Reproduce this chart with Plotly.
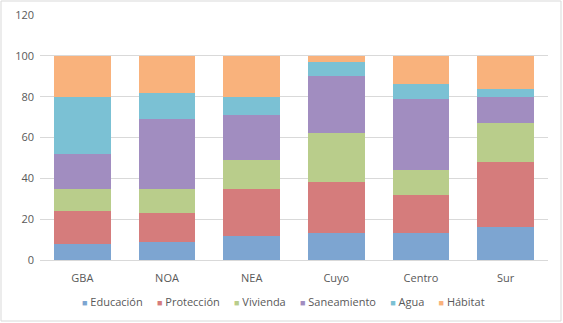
import plotly.graph_objects as go

regions = ["GBA", "NOA", "NEA", "Cuyo", "Centro", "Sur"]
educacion = [8, 9, 12, 13, 13, 16]
proteccion = [16, 14, 23, 25, 19, 32]
vivienda = [11, 12, 14, 24, 12, 19]
saneamiento = [17, 34, 22, 28, 35, 13]
agua = [28, 13, 9, 7, 7, 4]
habitat = [20, 18, 20, 3, 14, 16]

series = [
    ("Educación", educacion, "#7da5d1"),
    ("Protección", proteccion, "#d57c7c"),
    ("Vivienda", vivienda, "#b9cd8b"),
    ("Saneamiento", saneamiento, "#a18dc0"),
    ("Agua", agua, "#7bc1d4"),
    ("Hábitat", habitat, "#f9b27c"),
]

fig = go.Figure()
for name, vals, col in series:
    fig.add_trace(go.Bar(x=regions, y=vals, name=name, marker_color=col,
                         marker_line_width=0, showlegend=False))

W, H = 563, 323
L, R, T, B = 40, 15, 15, 63
pw, ph = W - L - R, H - T - B

legend_text = "&nbsp;&nbsp;&nbsp;&nbsp;&nbsp;".join(
    f"<span style='color:{col};font-size:9px'>■</span> {name}" for name, _, col in series
)

fig.update_layout(
    width=W, height=H, barmode="stack", bargap=0.33,
    margin=dict(l=L, r=R, t=T, b=B, autoexpand=False),
    paper_bgcolor="white", plot_bgcolor="white",
    font=dict(family="Open Sans, Liberation Sans, sans-serif", size=11, color="#595959"),
    showlegend=False,
    xaxis=dict(showgrid=False, showline=True, linecolor="#d9d9d9", linewidth=1,
               ticks="", ticklabelstandoff=8, tickfont=dict(size=11, color="#595959")),
    yaxis=dict(range=[0, 120], dtick=20, showgrid=True, gridcolor="#d9d9d9",
               gridwidth=1, zeroline=False, showline=False, ticks="",
               ticklabelstandoff=5, tickfont=dict(size=11, color="#595959")),
    annotations=[dict(text=legend_text, xref="paper", yref="paper",
                      x=(283 - L) / pw, y=(T + ph - 301) / ph,
                      xanchor="center", yanchor="middle", showarrow=False,
                      font=dict(size=11, color="#595959"))],
    shapes=[dict(type="rect", xref="paper", yref="paper",
                 x0=-(L - 1) / pw, x1=1 + (R - 2) / pw,
                 y0=-(B - 2) / ph, y1=1 + (T - 1) / ph,
                 line=dict(color="#d9d9d9", width=1))],
)

fig.write_html("out.html")
